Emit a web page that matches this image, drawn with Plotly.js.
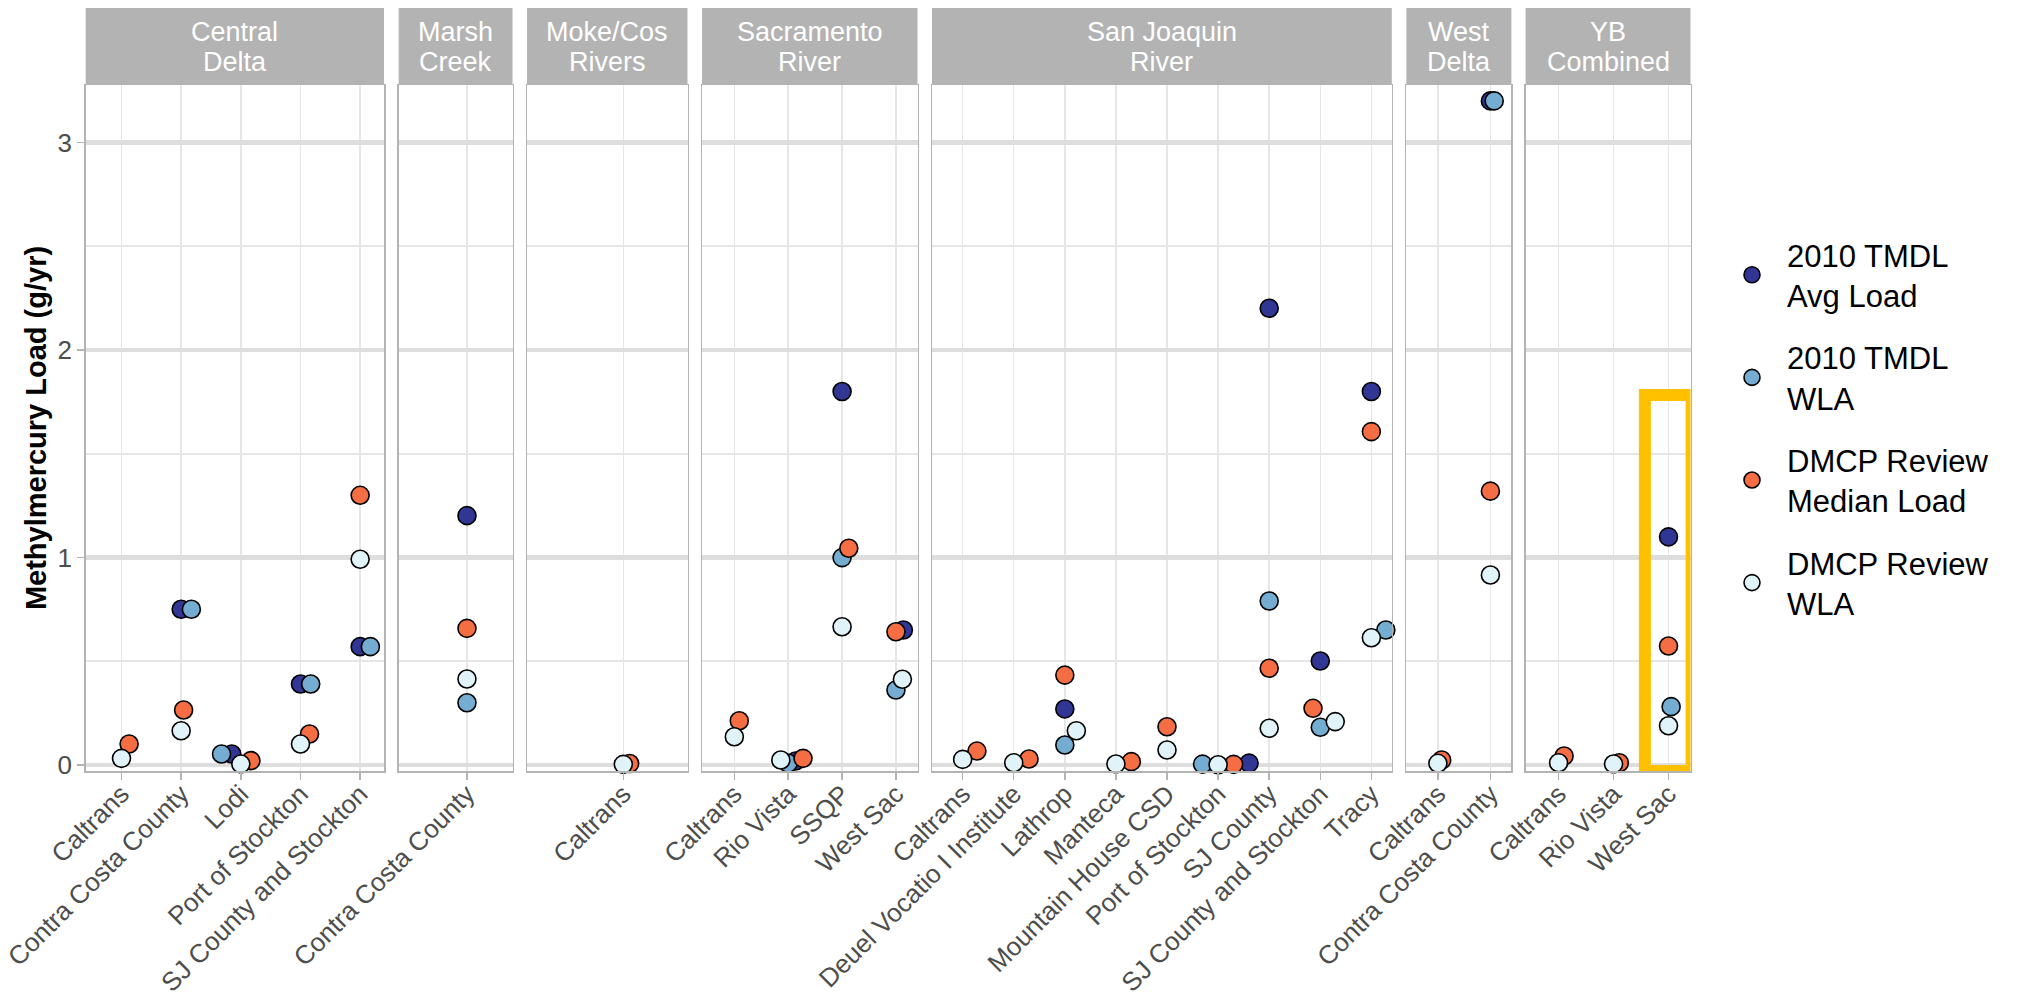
<!DOCTYPE html>
<html>
<head>
<meta charset="utf-8">
<script src="https://cdn.plot.ly/plotly-3.0.1.min.js"></script>
<style>html,body{margin:0;padding:0;background:#ffffff;}</style>
</head>
<body>
<div id="chart" style="width:2025px;height:993px;"></div>
<script>
// ---------------- DATA ----------------
const facetLabels = [
  ["Central", "Delta"], ["Marsh", "Creek"], ["Moke/Cos", "Rivers"],
  ["Sacramento", "River"], ["San Joaquin", "River"], ["West", "Delta"], ["YB", "Combined"]
];
const catCentralDelta = ["Caltrans", "Contra Costa County", "Lodi", "Port of Stockton", "SJ County and Stockton"];
const catMarshCreek   = ["Contra Costa County"];
const catMokeCos      = ["Caltrans"];
const catSacramento   = ["Caltrans", "Rio Vista", "SSQP", "West Sac"];
const catSanJoaquin   = ["Caltrans", "Deuel Vocatio I Institute", "Lathrop", "Manteca", "Mountain House CSD",
                         "Port of Stockton", "SJ County", "SJ County and Stockton", "Tracy"];
const catWestDelta    = ["Caltrans", "Contra Costa County"];
const catYBCombined   = ["Caltrans", "Rio Vista", "West Sac"];
const facetCategories = [catCentralDelta, catMarshCreek, catMokeCos, catSacramento, catSanJoaquin, catWestDelta, catYBCombined];

const seriesNames = ["2010 TMDL<br>Avg Load", "2010 TMDL<br>WLA", "DMCP Review<br>Median Load", "DMCP Review<br>WLA"];
const seriesColors = ["#313695", "#74ADD1", "#F46D43", "#E0F3F8"];

// values listed facet by facet, site by site (same order as the category arrays above)
const tmdlAvgLoad = [
  null, 0.751, 0.054, 0.391, 0.571,
  1.202,
  null,
  null, 0.020, 1.800, 0.651,
  null, null, 0.271, null, null, 0.010, 2.201, 0.502, 1.800,
  null, 3.200,
  null, null, 1.100
];
const tmdlWLA = [
  null, 0.751, 0.054, 0.391, 0.571,
  0.301,
  null,
  null, 0.009, 1.000, 0.362,
  null, null, 0.097, null, null, 0.005, 0.791, 0.183, 0.651,
  null, 3.200,
  null, null, 0.282
];
const dmcpMedianLoad = [
  0.102, 0.266, 0.022, 0.150, 1.300,
  0.659,
  0.008,
  0.214, 0.033, 1.045, 0.643,
  0.068, 0.030, 0.434, 0.017, 0.185, 0.004, 0.467, 0.274, 1.607,
  0.025, 1.320,
  0.044, 0.012, 0.574
];
const dmcpWLA = [
  0.033, 0.166, 0.006, 0.102, 0.992,
  0.415,
  0.004,
  0.137, 0.025, 0.667, 0.414,
  0.028, 0.012, 0.166, 0.006, 0.073, 0.002, 0.178, 0.210, 0.614,
  0.009, 0.916,
  0.012, 0.006, 0.190
];
const seriesValues = [tmdlAvgLoad, tmdlWLA, dmcpMedianLoad, dmcpWLA];
const yTickValues = [0, 1, 2, 3];

// ---------------- LAYOUT CONSTANTS ----------------
const W = 2025, H = 993;
const panelPx = [[85.7, 384], [398.7, 512.5], [527, 687.5], [702, 917.5], [932, 1391.8], [1406.4, 1511.4], [1525.6, 1690.5]];
const panelTop = 85, panelBottom = 771, stripTop = 8;
const yRange = [-0.028, 3.2765];
const fx = p => p / W, fy = p => 1 - p / H;
const FONT = "Liberation Sans, Arial, Helvetica, sans-serif";
const SWARM_K = 0.033, SWARM_SY = 0.103;

// beeswarm-like horizontal offsets (swarm placement, ascending priority)
function swarmOffsets(vals) {
  const idx = vals.map((v, i) => i).filter(i => vals[i] !== null);
  idx.sort((a, b) => (vals[a] - vals[b]) || (a - b));
  const placed = [];
  const out = vals.map(() => 0);
  idx.forEach(i => {
    const y = vals[i];
    const cands = [0];
    placed.forEach(p => {
      const d = (y - p.y) / SWARM_SY;
      if (Math.abs(d) < 1) { const dx = Math.sqrt(1 - d * d); cands.push(p.x + dx, p.x - dx); }
    });
    const ok = cands.filter(c => placed.every(p => {
      const u = c - p.x, w = (y - p.y) / SWARM_SY; return u * u + w * w >= 1 - 1e-9;
    }));
    ok.sort((a, b) => (Math.abs(Math.abs(a) - Math.abs(b)) > 0.01 ? Math.abs(a) - Math.abs(b) : b - a));
    out[i] = ok[0];
    placed.push({ x: ok[0], y: y });
  });
  return out;
}

const traces = [];
const layout = {
  width: W, height: H,
  margin: { l: 0, r: 0, t: 0, b: 0 },
  paper_bgcolor: "#ffffff", plot_bgcolor: "#ffffff",
  font: { family: FONT, color: "#4D4D4D" },
  showlegend: true,
  legend: {
    x: 1717 / W, y: fy(228), xanchor: "left", yanchor: "top",
    font: { family: FONT, size: 31, color: "#000000" },
    itemwidth: 60, tracegroupgap: 19, bgcolor: "rgba(0,0,0,0)"
  },
  shapes: [], annotations: [], hovermode: false
};

// offsets per facet/category
let siteStart = 0;
const offsetsBySeries = seriesValues.map(() => []);
facetCategories.forEach((cats, f) => {
  const sx = SWARM_K * (cats.length + 0.2);
  cats.forEach((c, ci) => {
    const k = siteStart + ci;
    const vals = seriesValues.map(s => s[k]);
    const off = swarmOffsets(vals);
    off.forEach((o, s) => { offsetsBySeries[s][k] = ci + o * sx; });
  });
  siteStart += cats.length;
});

// axes
facetCategories.forEach((cats, f) => {
  const xa = f === 0 ? "xaxis" : "xaxis" + (f + 1);
  const ya = f === 0 ? "yaxis" : "yaxis" + (f + 1);
  const xr = f === 0 ? "x" : "x" + (f + 1);
  const yr = f === 0 ? "y" : "y" + (f + 1);
  layout[xa] = {
    domain: [fx(panelPx[f][0]), fx(panelPx[f][1])], anchor: yr,
    range: [-0.6, cats.length - 0.6], tickmode: "array",
    tickvals: cats.map((c, i) => i), ticktext: cats, tickangle: -45,
    tickfont: { family: FONT, size: 26, color: "#4D4D4D" },
    ticklabelstandoff: -11,
    showgrid: true, gridcolor: "#E6E6E6", gridwidth: 1.5,
    ticks: "outside", ticklen: 7, tickwidth: 1.5, tickcolor: "#B3B3B3",
    showline: true, mirror: true, linecolor: "#B3B3B3", linewidth: 1.5,
    zeroline: false, fixedrange: true
  };
  layout[ya] = {
    domain: [fy(panelBottom), fy(panelTop)], anchor: xr,
    range: yRange, tickmode: "array", tickvals: yTickValues,
    showticklabels: f === 0, ticks: f === 0 ? "outside" : "",
    ticklen: 7, tickwidth: 1.5, tickcolor: "#B3B3B3",
    tickfont: { family: FONT, size: 26, color: "#4D4D4D" },
    showgrid: true, gridcolor: "#DEDEDE", gridwidth: 4.5,
    minor: { tick0: 0, dtick: 0.5, showgrid: true, gridcolor: "#E6E6E6", gridwidth: 2, ticks: "" },
    showline: true, mirror: true, linecolor: "#B3B3B3", linewidth: 1.5,
    zeroline: false, fixedrange: true
  };
  if (f === 0) {
    layout[ya].title = { text: "Methylmercury Load (g/yr)", font: { family: FONT, size: 29, color: "#000000", weight: "bold" }, standoff: 2 };
  }
  // strip
  layout.shapes.push({
    type: "rect", xref: "paper", yref: "paper", layer: "below",
    x0: fx(panelPx[f][0]), x1: fx(panelPx[f][1]), y0: fy(panelTop), y1: fy(stripTop),
    fillcolor: "#B3B3B3", line: { width: 0 }
  });
  facetLabels[f].forEach((line, li) => {
    layout.annotations.push({
      xref: "paper", yref: "paper", x: fx((panelPx[f][0] + panelPx[f][1]) / 2), y: fy(li === 0 ? 32 : 62),
      xanchor: "center", yanchor: "middle", showarrow: false, text: line,
      font: { family: FONT, size: 27, color: "#FFFFFF" }
    });
  });
});

// traces
seriesValues.forEach((vals, s) => {
  let start = 0;
  facetCategories.forEach((cats, f) => {
    const xs = [], ys = [];
    cats.forEach((c, ci) => {
      const k = start + ci;
      if (vals[k] !== null) { xs.push(offsetsBySeries[s][k]); ys.push(vals[k]); }
    });
    start += cats.length;
    traces.push({
      type: "scatter", mode: "markers", x: xs, y: ys,
      xaxis: f === 0 ? "x" : "x" + (f + 1), yaxis: f === 0 ? "y" : "y" + (f + 1),
      name: seriesNames[s], legendgroup: "g" + s, showlegend: f === 0,
      marker: { size: 18, color: seriesColors[s], line: { color: "#000000", width: 1.6 } },
      cliponaxis: false, hoverinfo: "skip"
    });
  });
});

// highlight box around YB Combined / West Sac
const hiX = catYBCombined.indexOf("West Sac");
layout.shapes.push({
  type: "rect", xref: "x7", yref: "y7", layer: "above",
  x0: hiX - 0.43, x1: hiX + 0.42, y0: -0.028, y1: 1.783,
  line: { color: "#FFC000", width: 12 }, fillcolor: "rgba(0,0,0,0)"
});

Plotly.newPlot("chart", traces, layout, { staticPlot: true, displayModeBar: false });
</script>
</body>
</html>
